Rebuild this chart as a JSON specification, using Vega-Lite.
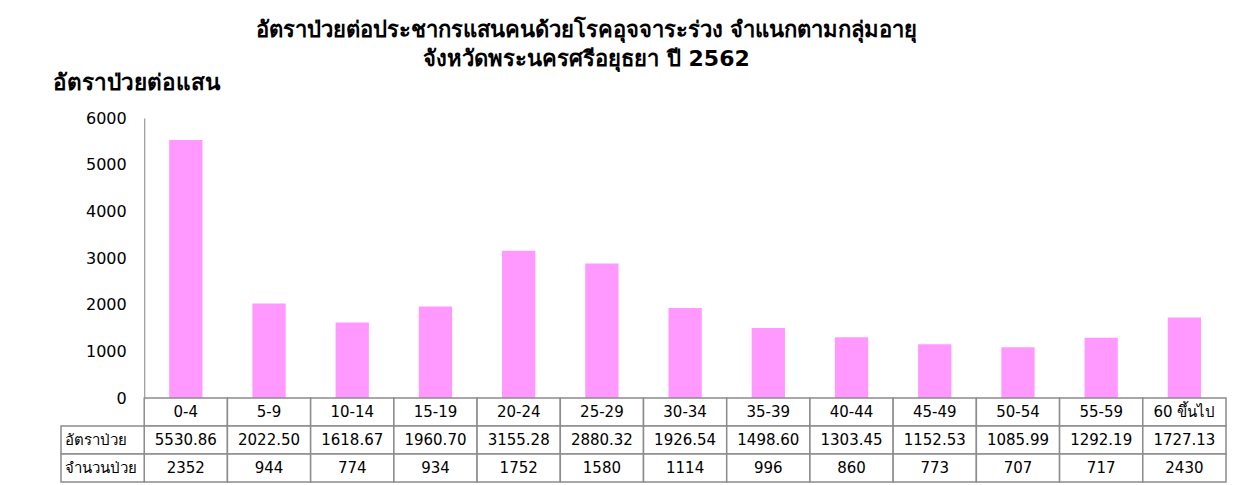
{
  "$schema": "https://vega.github.io/schema/vega-lite/v6.json",
  "padding": {"left": 52, "top": 19, "right": 0, "bottom": 0},
  "background": "white",
  "bounds": "flush",
  "title": {
    "text": ["อัตราป่วยต่อประชากรแสนคนด้วยโรคอุจจาระร่วง จำแนกตามกลุ่มอายุ", "จังหวัดพระนครศรีอยุธยา  ปี 2562"],
    "anchor": "middle",
    "font": "Tahoma, DejaVu Sans, Noto Sans",
    "fontSize": 22,
    "fontWeight": "bold",
    "color": "black",
    "lineHeight": 29,
    "dx": -53,
    "offset": 0
  },
  "datasets": {
    "ages": [
      {"age": "0-4", "rate": 5530.86, "cases": 2352},
      {"age": "5-9", "rate": 2022.50, "cases": 944},
      {"age": "10-14", "rate": 1618.67, "cases": 774},
      {"age": "15-19", "rate": 1960.70, "cases": 934},
      {"age": "20-24", "rate": 3155.28, "cases": 1752},
      {"age": "25-29", "rate": 2880.32, "cases": 1580},
      {"age": "30-34", "rate": 1926.54, "cases": 1114},
      {"age": "35-39", "rate": 1498.60, "cases": 996},
      {"age": "40-44", "rate": 1303.45, "cases": 860},
      {"age": "45-49", "rate": 1152.53, "cases": 773},
      {"age": "50-54", "rate": 1085.99, "cases": 707},
      {"age": "55-59", "rate": 1292.19, "cases": 717},
      {"age": "60 ขึ้นไป", "rate": 1727.13, "cases": 2430}
    ],
    "rowlabels": [
      {"row": "อัตราป่วย"},
      {"row": "จำนวนป่วย"}
    ]
  },
  "spacing": 0,
  "vconcat": [
    {
      "width": 1165,
      "height": 280,
      "data": {"name": "ages"},
      "mark": {"type": "bar", "color": "#FF99FF", "width": {"band": 0.4}},
      "encoding": {
        "x": {
          "field": "age", "type": "nominal", "sort": null, "axis": null,
          "scale": {"domain": ["label", "0-4", "5-9", "10-14", "15-19", "20-24", "25-29", "30-34", "35-39", "40-44", "45-49", "50-54", "55-59", "60 ขึ้นไป"], "paddingInner": 0, "paddingOuter": 0}
        },
        "y": {
          "field": "rate", "type": "quantitative",
          "scale": {"domain": [0, 6000], "nice": false},
          "axis": {
            "title": "อัตราป่วยต่อแสน",
            "titleAngle": 0, "titleAlign": "left", "titleBaseline": "middle",
            "titleX": -92, "titleY": -36,
            "titleFont": "Tahoma, DejaVu Sans, Noto Sans", "titleFontSize": 22.5, "titleFontWeight": "bold", "titleColor": "black",
            "offset": -83.2,
            "values": [0, 1000, 2000, 3000, 4000, 5000, 6000],
            "format": "d",
            "grid": false, "ticks": false,
            "labelFont": "Tahoma, DejaVu Sans", "labelFontSize": 16, "labelColor": "black", "labelPadding": 18,
            "domainColor": "#999999", "domainWidth": 1.2
          }
        }
      }
    },
    {
      "width": 1165,
      "height": 84,
      "layer": [
        {
          "data": {"name": "ages"},
          "mark": {"type": "rect", "fill": "white", "stroke": "#8c8c8c", "strokeWidth": 1.5},
          "encoding": {
            "x": {"field": "age", "type": "nominal"},
            "y": {"datum": "hdr", "type": "nominal"}
          }
        },
        {
          "data": {"name": "ages"},
          "mark": {"type": "rect", "fill": "white", "stroke": "#8c8c8c", "strokeWidth": 1.5},
          "encoding": {
            "x": {"field": "age", "type": "nominal"},
            "y": {"datum": "อัตราป่วย", "type": "nominal"}
          }
        },
        {
          "data": {"name": "ages"},
          "mark": {"type": "rect", "fill": "white", "stroke": "#8c8c8c", "strokeWidth": 1.5},
          "encoding": {
            "x": {"field": "age", "type": "nominal"},
            "y": {"datum": "จำนวนป่วย", "type": "nominal"}
          }
        },
        {
          "data": {"name": "rowlabels"},
          "mark": {"type": "rect", "fill": "white", "stroke": "#8c8c8c", "strokeWidth": 1.5},
          "encoding": {
            "x": {"datum": "label", "type": "nominal"},
            "y": {"field": "row", "type": "nominal"}
          }
        },
        {
          "data": {"name": "ages"},
          "mark": {"type": "text", "font": "Tahoma, DejaVu Sans", "fontSize": 15, "color": "black"},
          "encoding": {
            "x": {"field": "age", "type": "nominal"},
            "y": {"datum": "hdr", "type": "nominal"},
            "text": {"field": "age"}
          }
        },
        {
          "data": {"name": "ages"},
          "mark": {"type": "text", "font": "Tahoma, DejaVu Sans", "fontSize": 15, "color": "black"},
          "encoding": {
            "x": {"field": "age", "type": "nominal"},
            "y": {"datum": "อัตราป่วย", "type": "nominal"},
            "text": {"field": "rate", "format": ".2f"}
          }
        },
        {
          "data": {"name": "ages"},
          "mark": {"type": "text", "font": "Tahoma, DejaVu Sans", "fontSize": 15, "color": "black"},
          "encoding": {
            "x": {"field": "age", "type": "nominal"},
            "y": {"datum": "จำนวนป่วย", "type": "nominal"},
            "text": {"field": "cases", "format": "d"}
          }
        },
        {
          "data": {"name": "rowlabels"},
          "mark": {"type": "text", "font": "Tahoma, DejaVu Sans", "fontSize": 15, "color": "black", "align": "left", "dx": 4},
          "encoding": {
            "x": {"datum": "label", "type": "nominal", "bandPosition": 0},
            "y": {"field": "row", "type": "nominal"},
            "text": {"field": "row"}
          }
        }
      ],
      "encoding": {
        "x": {
          "type": "nominal", "axis": null,
          "scale": {"domain": ["label", "0-4", "5-9", "10-14", "15-19", "20-24", "25-29", "30-34", "35-39", "40-44", "45-49", "50-54", "55-59", "60 ขึ้นไป"], "paddingInner": 0, "paddingOuter": 0}
        },
        "y": {
          "type": "nominal", "axis": null,
          "scale": {"domain": ["hdr", "อัตราป่วย", "จำนวนป่วย"], "paddingInner": 0, "paddingOuter": 0}
        }
      }
    }
  ],
  "config": {
    "view": {"stroke": null},
    "font": "Tahoma, DejaVu Sans"
  }
}
